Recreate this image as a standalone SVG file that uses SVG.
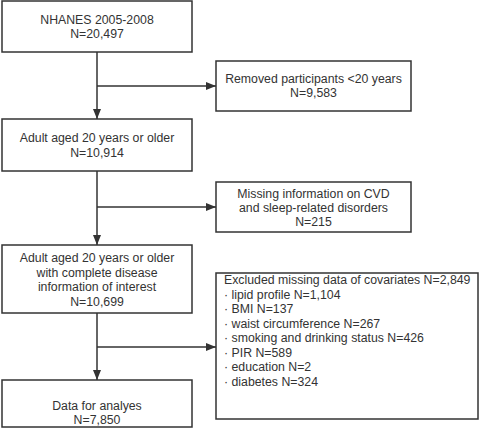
<svg xmlns="http://www.w3.org/2000/svg" width="480" height="428" viewBox="0 0 480 428">
<defs>
<style>
.box{fill:#fff;stroke:#333;stroke-width:1.5}
.ln{fill:none;stroke:#333;stroke-width:1.5}
text{font-family:"Liberation Sans",Arial,sans-serif;font-size:12.3px;fill:#333}
.c{text-anchor:middle}
</style>
<marker id="ah" viewBox="0 0 10 10" refX="10" refY="5" markerWidth="10" markerHeight="10" markerUnits="userSpaceOnUse" orient="auto">
<path d="M0,1 L10,5 L0,9 Z" fill="#333"/>
</marker>
</defs>
<rect width="480" height="428" fill="#fff"/>
<g id="connectors">
<line class="ln" x1="97" y1="52" x2="97" y2="119" marker-end="url(#ah)"/>
<line class="ln" x1="97" y1="86" x2="216" y2="86" marker-end="url(#ah)"/>
<line class="ln" x1="97" y1="171" x2="97" y2="245" marker-end="url(#ah)"/>
<line class="ln" x1="97" y1="207" x2="216" y2="207" marker-end="url(#ah)"/>
<line class="ln" x1="97" y1="313" x2="97" y2="380" marker-end="url(#ah)"/>
<line class="ln" x1="97" y1="347" x2="216" y2="347" marker-end="url(#ah)"/>
</g>
<g id="n1"><rect class="box" x="2" y="1" width="190" height="51"/>
<text class="c" x="97" y="24">NHANES 2005-2008</text><text class="c" x="97" y="38">N=20,497</text></g>
<g id="n2"><rect class="box" x="216" y="61" width="195" height="50"/>
<text class="c" x="313.5" y="83">Removed participants &lt;20 years</text><text class="c" x="313.5" y="97">N=9,583</text></g>
<g id="n3"><rect class="box" x="2" y="119" width="190" height="52"/>
<text class="c" x="97" y="142">Adult aged 20 years or older</text><text class="c" x="97" y="157">N=10,914</text></g>
<g id="n4"><rect class="box" x="216" y="182" width="195" height="50"/>
<text class="c" x="313.5" y="198">Missing information on CVD</text><text class="c" x="313.5" y="212">and sleep-related disorders</text><text class="c" x="313.5" y="226">N=215</text></g>
<g id="n5"><rect class="box" x="2" y="245" width="190" height="68"/>
<text class="c" x="97" y="262">Adult aged 20 years or older</text><text class="c" x="97" y="276.5">with complete disease</text><text class="c" x="97" y="291">information of interest</text><text class="c" x="97" y="305.5">N=10,699</text></g>
<g id="n6"><rect class="box" x="216" y="273" width="262" height="146"/>
<text x="224" y="284">Excluded missing data of covariates N=2,849</text>
<text x="224" y="298.5">· lipid profile N=1,104</text>
<text x="224" y="313">· BMI N=137</text>
<text x="224" y="327.5">· waist circumference N=267</text>
<text x="224" y="342">· smoking and drinking status N=426</text>
<text x="224" y="356.5">· PIR N=589</text>
<text x="224" y="371">· education N=2</text>
<text x="224" y="385.5">· diabetes N=324</text></g>
<g id="n7"><rect class="box" x="2" y="380" width="190" height="47"/>
<text class="c" x="97" y="410">Data for analyes</text><text class="c" x="97" y="424">N=7,850</text></g>
</svg>
